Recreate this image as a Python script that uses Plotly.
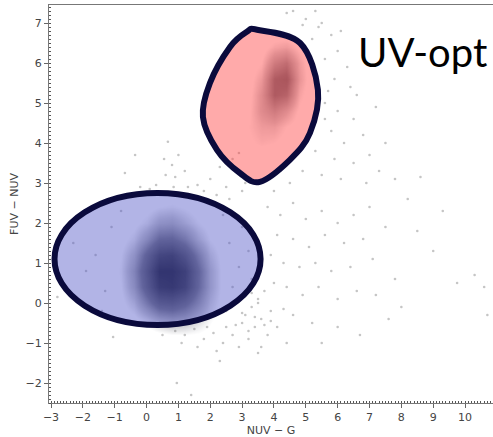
import plotly.graph_objects as go

# ---- sparse field sources (NUV-G, FUV-NUV) ----
field_x = [
    0.67, -0.36, -0.68, 0.55, 0.8, 1.0, 0.6, 0.9, 1.2, 0.3, 0.1, 1.3, 1.6, 2.0, 2.3, 2.5, 2.7, 2.9, 2.6, 3.0, 2.2, 1.8, 0.85, -0.2, 2.9, 3.1,
    4.6, 5.0, 5.4, 5.8, 5.2, 6.0, 5.6, 6.3, 5.9, 6.4, 5.7, 5.5, 4.9, 6.1, 5.3, 4.4,
    5.6, 6.0, 6.5, 5.8, 6.2, 6.8, 7.0, 6.5, 5.9, 7.3, 7.8, 8.6, 6.9, 5.5, 6.1, 7.5, 5.6, 6.6, 7.2, 5.3, 4.9, 4.5, 4.0, 4.2, 3.8,
    3.8, 4.2, 4.6, 5.0, 5.5, 6.0, 6.5, 7.0, 7.5, 6.8, 6.2, 5.6, 5.1, 4.6, 4.1, 3.9, 4.3, 4.8, 5.3, 5.8, 6.4, 7.1, 7.8, 8.0,
    7.2, 6.6, 6.0, 5.4, 4.9, 4.4, 4.0, 3.7, 3.5, 3.3, 3.1, 3.6, 3.9, 4.1, 3.4, 3.0, 3.8, 4.6, 5.2, 6.0, 6.7, 5.5, 4.4, 3.6, 3.5, 7.6,
    9.75, 10.6, 10.7, 10.3, 9.0, 8.5, 9.3, 8.2,
    0.9, 1.2, 1.5, 1.8, 2.1, 2.4, 2.7, 2.9, 2.2, 1.6, 1.1, 2.5, 2.8, 1.9, 0.95, 1.4, -1.05, 0.5, 2.3, 3.2,
    -2.8, -1.6, -1.3, -1.9, -1.1, -1.4, 2.6, 2.9, 3.2, 2.4, 3.0, 2.7, 3.3, 2.5, -0.8, -2.3,
    3.4, 3.7, 3.2, 3.9, 4.3, 3.5, 3.0, 3.3,
]
field_y = [
    4.03, 3.7, 3.25, 3.6, 3.45, 3.7, 3.2, 3.15, 3.3, 2.95, 2.85, 2.9, 2.95, 3.1, 3.4, 2.9, 3.6, 3.3, 2.6, 2.8, 2.7, 2.8, 2.9, 2.9, 3.75, 3.0,
    7.3, 7.1, 6.9, 6.7, 6.6, 6.3, 6.1, 5.9, 5.6, 5.4, 5.3, 7.0, 6.95, 6.8, 7.3, 7.25,
    5.0, 4.8, 4.6, 4.3, 4.0, 4.2, 3.7, 3.5, 3.6, 3.3, 3.1, 3.15, 3.0, 3.2, 3.1, 4.0, 4.6, 5.2, 4.9, 3.8, 3.3, 3.0, 2.8, 3.3, 3.1,
    2.4, 2.2, 2.5, 2.1, 2.3, 2.0, 2.2, 2.4, 1.9, 1.6, 1.5, 1.7, 1.4, 1.6, 1.7, 1.2, 1.0, 0.9, 1.0, 0.8, 0.9, 1.1, 0.6, -0.1,
    0.2, 0.3, 0.1, 0.4, 0.2, 0.4, 0.5, 0.3, 0.1, -0.1, -0.3, -0.4, -0.2, -0.6, -0.6, -0.5, -0.8, -0.3, -0.5, -0.6, -0.8, -1.0, -1.0, -1.1, -1.25, -0.4,
    0.5, 0.4, -0.3, 0.7, 1.3, 1.8, 2.3, 2.6,
    -0.7, -0.8, -0.65, -0.9, -0.75, -1.0, -0.8, -1.1, -1.2, -1.1, -1.0, -0.6, -0.55, -0.6, -2.0, -2.3, -0.85, -0.8, -1.45, -0.9,
    0.15, 1.2, 0.3, 0.8, 1.9, -0.2, 1.5, 0.9, 1.3, 2.2, 1.9, 0.4, 0.6, -0.2, 2.3, 1.5,
    -0.35, -0.55, -0.7, -0.45, -0.15, 0.0, -0.25, 0.25,
]

# ---- dense blue-cloud source density (relative), grid in NUV-G x FUV-NUV ----
blue_gx = [-1.2, -0.8, -0.4, 0.0, 0.4, 0.8, 1.2, 1.6, 2.0, 2.4, 2.8]
blue_gy = [-1.2, -0.8, -0.4, 0.0, 0.4, 0.8, 1.2, 1.6, 2.0, 2.4, 2.8]
blue_density = [
    [0.00, 0.00, 0.00, 0.00, 0.00, 0.00, 0.00, 0.00, 0.00, 0.00, 0.00],
    [0.00, 0.00, 0.00, 0.02, 0.05, 0.08, 0.08, 0.07, 0.05, 0.02, 0.00],
    [0.00, 0.02, 0.05, 0.14, 0.25, 0.30, 0.27, 0.18, 0.10, 0.03, 0.00],
    [0.00, 0.05, 0.16, 0.40, 0.62, 0.66, 0.55, 0.36, 0.16, 0.04, 0.00],
    [0.00, 0.08, 0.28, 0.62, 0.92, 0.96, 0.84, 0.50, 0.22, 0.05, 0.00],
    [0.00, 0.10, 0.32, 0.68, 1.00, 1.00, 0.88, 0.52, 0.22, 0.05, 0.00],
    [0.00, 0.08, 0.24, 0.56, 0.82, 0.86, 0.68, 0.40, 0.16, 0.04, 0.00],
    [0.00, 0.04, 0.12, 0.30, 0.50, 0.52, 0.40, 0.20, 0.08, 0.02, 0.00],
    [0.00, 0.02, 0.05, 0.12, 0.24, 0.27, 0.18, 0.09, 0.04, 0.00, 0.00],
    [0.00, 0.00, 0.02, 0.04, 0.08, 0.10, 0.07, 0.03, 0.00, 0.00, 0.00],
    [0.00, 0.00, 0.00, 0.00, 0.00, 0.00, 0.00, 0.00, 0.00, 0.00, 0.00],
]

# ---- red-cloud source density (relative) ----
red_gx = [2.8, 3.2, 3.6, 4.0, 4.4, 4.8, 5.2]
red_gy = [3.6, 4.0, 4.4, 4.8, 5.2, 5.6, 6.0, 6.4, 6.8]
red_density = [
    [0.00, 0.00, 0.00, 0.00, 0.00, 0.00, 0.00],
    [0.00, 0.06, 0.10, 0.08, 0.04, 0.02, 0.00],
    [0.00, 0.08, 0.15, 0.16, 0.08, 0.03, 0.00],
    [0.00, 0.06, 0.22, 0.32, 0.22, 0.06, 0.00],
    [0.00, 0.04, 0.22, 0.50, 0.45, 0.12, 0.00],
    [0.00, 0.03, 0.16, 0.50, 0.55, 0.18, 0.00],
    [0.00, 0.02, 0.08, 0.32, 0.40, 0.15, 0.00],
    [0.00, 0.00, 0.03, 0.12, 0.15, 0.06, 0.00],
    [0.00, 0.00, 0.00, 0.00, 0.00, 0.00, 0.00],
]

# ---- selection regions ----
blue_region = dict(x0=-2.89, x1=3.58, y0=-0.55, y1=2.75)
red_outline_x = [3.47, 4.82, 5.38, 5.13, 4.50, 3.56, 2.93, 2.21, 1.77, 1.99, 2.62, 3.15]
red_outline_y = [6.83, 6.50, 5.33, 4.25, 3.58, 3.03, 3.25, 3.83, 4.65, 5.50, 6.40, 6.78]

x_ticks = list(range(-3, 11))
y_ticks = list(range(-2, 8))


def smooth_closed_path(xs, ys):
    """Closed Catmull-Rom curve through the outline vertices, as an SVG path."""
    n = len(xs)
    parts = [f"M {xs[0]},{ys[0]}"]
    for i in range(n):
        p0 = (xs[i - 1], ys[i - 1])
        p1 = (xs[i], ys[i])
        p2 = (xs[(i + 1) % n], ys[(i + 1) % n])
        p3 = (xs[(i + 2) % n], ys[(i + 2) % n])
        c1 = (p1[0] + (p2[0] - p0[0]) / 6, p1[1] + (p2[1] - p0[1]) / 6)
        c2 = (p2[0] - (p3[0] - p1[0]) / 6, p2[1] - (p3[1] - p1[1]) / 6)
        parts.append(f"C {c1[0]:.3f},{c1[1]:.3f} {c2[0]:.3f},{c2[1]:.3f} {p2[0]},{p2[1]}")
    return " ".join(parts) + " Z"


def minus(v):
    return str(v).replace("-", "\u2212")


cloud_scale = [[0.0, "rgba(25,25,45,0)"], [0.08, "rgba(25,25,45,0)"],
               [0.2, "rgba(25,25,45,0.22)"], [0.5, "rgba(20,20,40,0.62)"],
               [1.0, "rgba(12,12,30,0.95)"]]

fig = go.Figure()

fig.add_trace(go.Heatmap(
    x=blue_gx, y=blue_gy, z=blue_density, zmin=0, zmax=1, zsmooth="best",
    colorscale=cloud_scale, showscale=False, hoverinfo="skip"))
fig.add_trace(go.Heatmap(
    x=red_gx, y=red_gy, z=red_density, zmin=0, zmax=1, zsmooth="best",
    colorscale=cloud_scale, showscale=False, hoverinfo="skip"))
fig.add_trace(go.Scatter(
    x=field_x, y=field_y, mode="markers",
    marker=dict(size=2.6, color="rgba(90,90,90,0.35)", line=dict(width=0)),
    hoverinfo="skip", showlegend=False))

outline = "rgb(10,10,60)"
fig.add_shape(type="circle", xref="x", yref="y", layer="above",
              fillcolor="rgba(84,89,200,0.45)",
              line=dict(color=outline, width=6), **blue_region)
fig.add_shape(type="path", xref="x", yref="y", layer="above",
              path=smooth_closed_path(red_outline_x, red_outline_y),
              fillcolor="rgba(255,67,67,0.45)",
              line=dict(color=outline, width=6))

fig.add_annotation(text="UV-opt", xref="paper", yref="paper", x=0.691, y=0.882,
                   xanchor="left", yanchor="middle", showarrow=False,
                   font=dict(family="Lato", size=40, color="black"))

axis_font = dict(family="DejaVu Sans", size=11, color="#444")
fig.update_xaxes(
    range=[-3.063, 10.877], tickvals=x_ticks, ticktext=[minus(v) for v in x_ticks],
    ticks="outside", ticklen=4, tickcolor="#666", showgrid=False, zeroline=False,
    showline=True, linecolor="#777", linewidth=1, mirror=True,
    minor=dict(dtick=0.1, ticks="inside", ticklen=2, tickcolor="#555", showgrid=False),
    tickfont=axis_font, title=dict(text="NUV \u2212 G", font=axis_font, standoff=6))
fig.update_yaxes(
    range=[-2.5, 7.45], tickvals=y_ticks, ticktext=[minus(v) for v in y_ticks],
    ticks="outside", ticklen=4, tickcolor="#666", showgrid=False, zeroline=False,
    showline=True, linecolor="#777", linewidth=1, mirror=False,
    minor=dict(dtick=0.1, ticks="inside", ticklen=2, tickcolor="#555", showgrid=False),
    tickfont=axis_font, title=dict(text="FUV \u2212 NUV", font=axis_font, standoff=4))

fig.update_layout(
    width=493, height=437, margin=dict(l=49, r=0, t=5, b=34),
    plot_bgcolor="white", paper_bgcolor="white", showlegend=False)

fig.write_html("out.html")
